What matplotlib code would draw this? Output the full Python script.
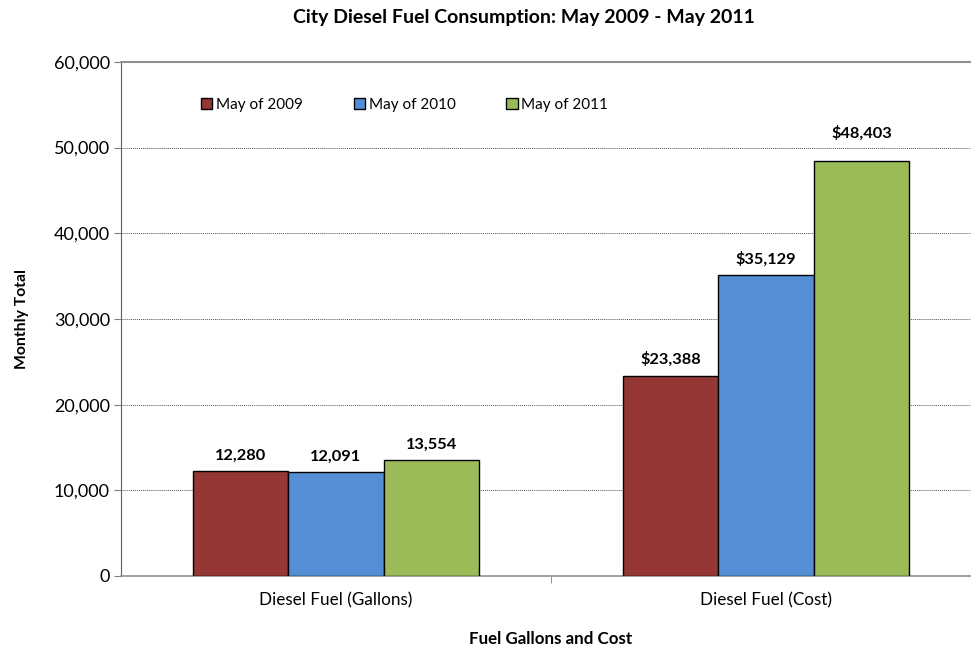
import matplotlib.pyplot as plt
import matplotlib.ticker as ticker
import numpy as np

plt.rcParams['font.family'] = ['Lato', 'DejaVu Sans']

# dados
categorias = ['Diesel Fuel (Gallons)', 'Diesel Fuel (Cost)']
series = ['May of 2009', 'May of 2010', 'May of 2011']
valores_2009 = [12280, 23388]
valores_2010 = [12091, 35129]
valores_2011 = [13554, 48403]
cores = ['#953735', '#558ED5', '#9BBB59']
prefixo_rotulo = ['', '$']

fig = plt.figure(figsize=(9.71, 6.46), dpi=100)
ax = fig.add_axes([0.1246, 0.1084, 0.8857, 0.7957])

x = np.arange(len(categorias))
largura = 0.222
for i, (nome, vals) in enumerate(zip(series, [valores_2009, valores_2010, valores_2011])):
    pos = x + (i - 1) * largura
    ax.bar(pos, vals, largura, color=cores[i], edgecolor='black', linewidth=1.0,
           label=nome, zorder=3)
    for j, (xp, v, pre) in enumerate(zip(pos, vals, prefixo_rotulo)):
        # rotulo da maior barra fica acima da linha de grade
        desloc = 15 if (i == 2 and j == 1) else 6
        ax.annotate(f'{pre}{v:,}', (xp, v), xytext=(0, desloc), textcoords='offset points',
                    ha='center', va='bottom', fontsize=11.8, fontweight='bold')

ax.set_xlim(-0.5, 1.5)
ax.set_ylim(0, 60000)
ax.yaxis.set_major_locator(ticker.MultipleLocator(10000))
ax.yaxis.set_major_formatter(ticker.FuncFormatter(lambda v, p: f'{int(v):,}'))
ax.set_xticks(x)
ax.set_xticklabels(categorias)
ax.xaxis.set_minor_locator(ticker.FixedLocator([0.5]))
ax.tick_params(axis='x', which='major', length=0, pad=12, labelsize=12.3)
ax.tick_params(axis='x', which='minor', length=5, color='#808080')
ax.tick_params(axis='y', length=5, color='#808080', labelsize=13, pad=3)

# grade pontilhada
for yv in range(10000, 60000, 10000):
    ax.axhline(yv, color='#555555', linewidth=0.7, linestyle=(0, (1, 1)), zorder=1)

ax.spines['top'].set_color('#909090')
ax.spines['top'].set_linewidth(1.5)
ax.spines['right'].set_visible(False)
ax.spines['left'].set_color('#606060')
ax.spines['bottom'].set_color('#909090')
ax.spines['bottom'].set_linewidth(1.2)

ax.set_xlabel('Fuel Gallons and Cost', fontsize=12.2, fontweight='bold', labelpad=16)
ax.set_ylabel('Monthly Total', fontsize=11.3, fontweight='bold', labelpad=18)
fig.text(0.5396, 0.973, 'City Diesel Fuel Consumption: May 2009 - May 2011',
         ha='center', va='center', fontsize=14, fontweight='bold')

leg = ax.legend(loc='upper left', bbox_to_anchor=(0.077, 0.957), ncol=3, frameon=False,
                fontsize=11, handlelength=0.75, handleheight=0.75, handletextpad=0.25,
                columnspacing=3.3)
for h in leg.legend_handles:
    h.set_edgecolor('black')
    h.set_linewidth(1.0)

fig.savefig('out.png', dpi=100)
